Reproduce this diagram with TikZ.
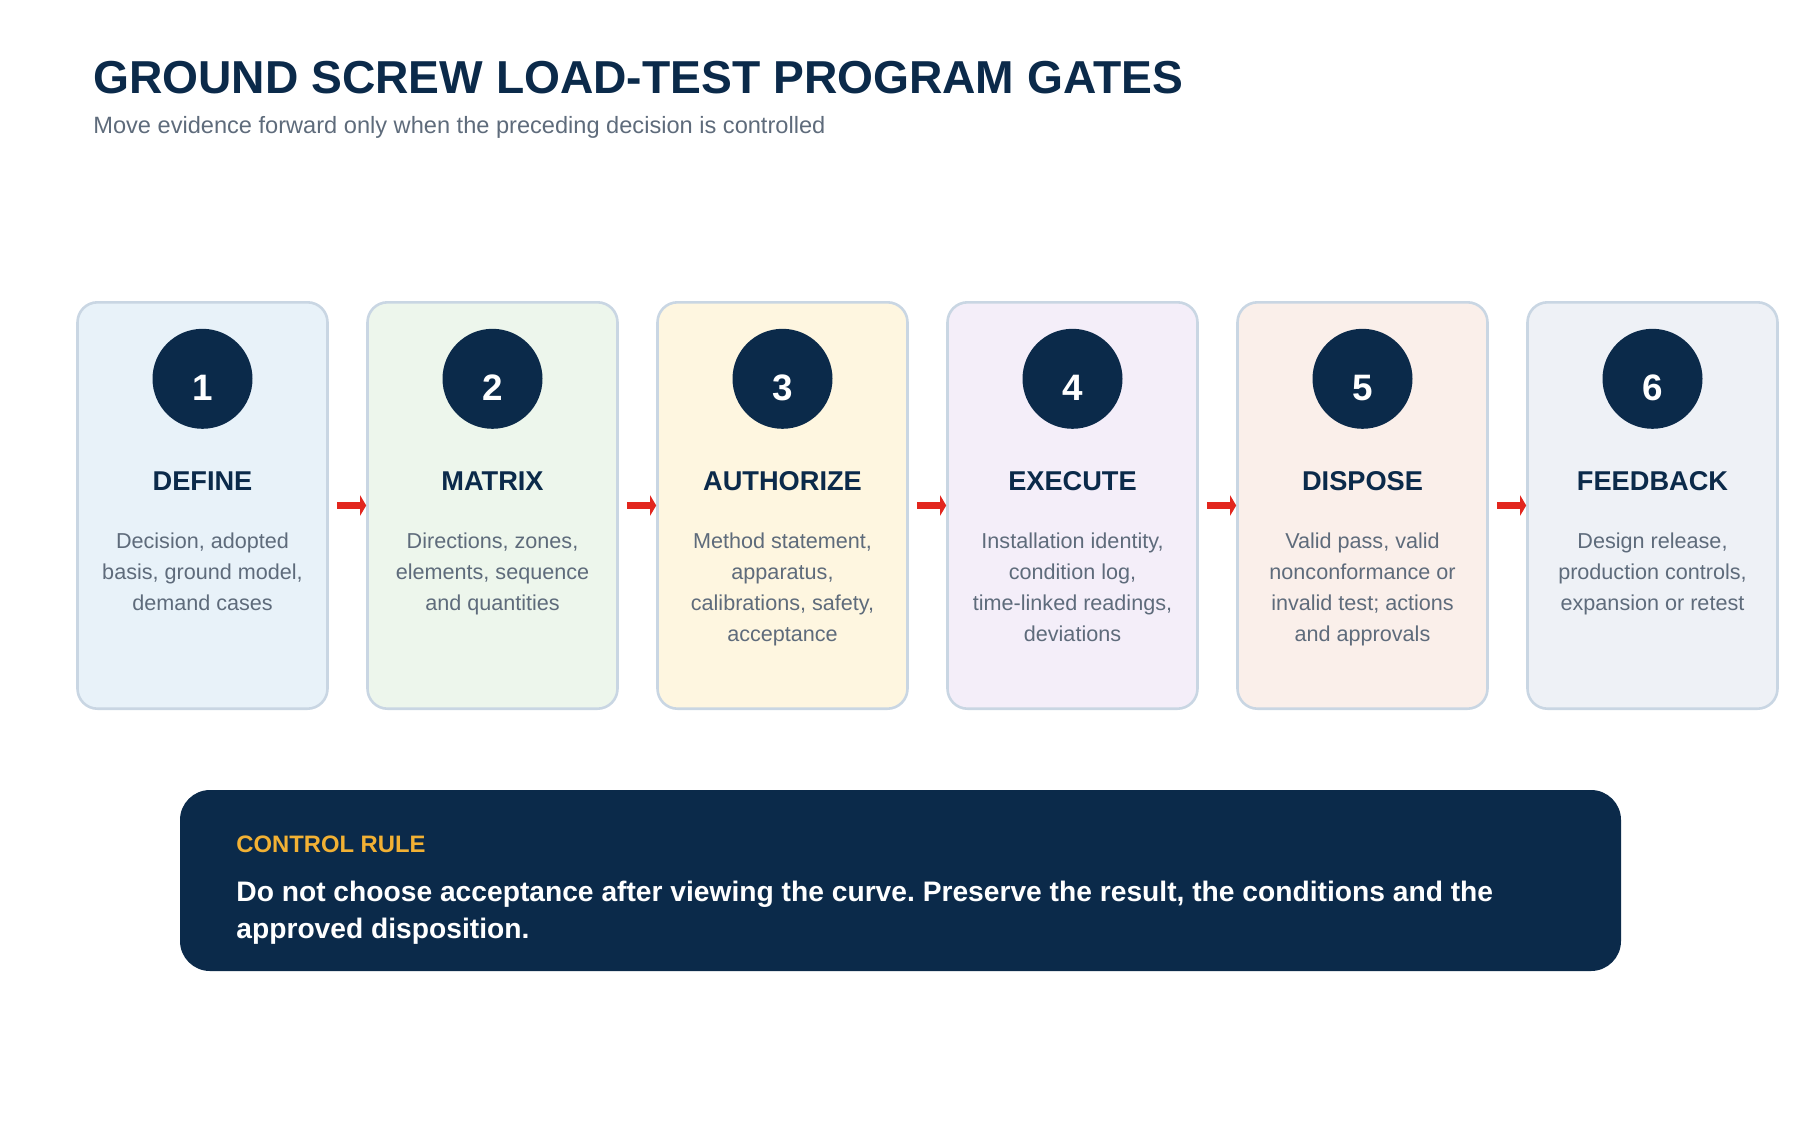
\documentclass[tikz,border=0pt]{standalone}
\usepackage{fontspec}
\setmainfont{Liberation Sans}
\usetikzlibrary{positioning, arrows.meta}
\frenchspacing

\definecolor{navy}{HTML}{0B2A4A}
\definecolor{slate}{HTML}{5E6B7B}
\definecolor{edge}{HTML}{C9D6E3}
\definecolor{gold}{HTML}{F2B134}
\definecolor{flowred}{HTML}{E2261E}
\definecolor{tintA}{HTML}{E8F2F9}
\definecolor{tintB}{HTML}{EDF6EC}
\definecolor{tintC}{HTML}{FEF6E0}
\definecolor{tintD}{HTML}{F4EEF9}
\definecolor{tintE}{HTML}{FAEFEA}
\definecolor{tintF}{HTML}{EEF1F6}

\begin{document}
\begin{tikzpicture}[x=0.5pt, y=-0.5pt,
      card/.style = {draw=edge, line width=1.3pt, rounded corners=10pt,
                     minimum width=125pt, minimum height=203.2pt, inner sep=0pt},
      disc/.style = {circle, fill=navy, minimum size=50pt, inner sep=0pt},
      num/.style  = {text=white, inner sep=0pt,
                     font=\fontsize{18.4pt}{18pt}\selectfont\bfseries},
      gate/.style = {text=navy, inner sep=0pt, anchor=base,
                     font=\fontsize{13.6pt}{16pt}\selectfont\bfseries},
      note/.style = {text=slate, inner sep=0pt, anchor=north, align=center,
                     font=\fontsize{10.8pt}{15.5pt}\selectfont},
      flow/.style = {draw=flowred, line width=3.5pt, shorten <=4.2pt,
                     -{Triangle[length=3pt, width=10pt]}},
      panel/.style = {fill=navy, rounded corners=15pt,
                      minimum width=720.5pt, minimum height=90.5pt} ]

   \useasboundingbox (0,0) rectangle (1800,1120);

   \node (title) [anchor=base west, inner sep=0pt, text=navy,
                  font=\fontsize{23.1pt}{27pt}\selectfont\bfseries]
         at (92.7,93.3) {GROUND SCREW LOAD-TEST PROGRAM GATES};
   \node (subtitle) [anchor=base west, inner sep=0pt, text=slate,
                     font=\fontsize{11.8pt}{14pt}\selectfont]
         at (93,133.3) {Move evidence forward only when the preceding decision is controlled};

   \foreach \i/\tint/\gate/\lines in {
      1/tintA/DEFINE/{Decision, adopted\\basis, ground model,\\demand cases},
      2/tintB/MATRIX/{Directions, zones,\\elements, sequence\\and quantities},
      3/tintC/AUTHORIZE/{Method statement,\\apparatus,\\calibrations, safety,\\acceptance},
      4/tintD/EXECUTE/{Installation identity,\\condition log,\\time-linked readings,\\deviations},
      5/tintE/DISPOSE/{Valid pass, valid\\nonconformance or\\invalid test; actions\\and approvals},
      6/tintF/FEEDBACK/{Design release,\\production controls,\\expansion or retest}}
   {
      \node (b\i) [card, fill=\tint] at ({202.5+290*(\i-1)},505.5) {};
      \node (d\i) [disc, below=13.7pt of b\i.north] {};
      \node (n\i) [num] at ([yshift=-4.4pt]d\i.center) {\i};
      \node (h\i) [gate] at ([yshift=7.4pt]b\i.center) {\gate};
      \node (t\i) [note] at ([yshift=-13.5pt]b\i.center) {\lines};
   }

   \foreach \i [remember=\i as \j (initially 1)] in {2,...,6}
      \draw[flow] (b\j.east) -- (b\i.west);

   \node (rule) [panel] at (900.5,880.5) {};
   \node (rulehead) [anchor=base west, inner sep=0pt, text=gold,
                     font=\fontsize{11.9pt}{14pt}\selectfont\bfseries]
         at (236,852) {CONTROL RULE};
   \node (rulebody) [anchor=north west, inner sep=0pt, text=white, align=left,
                     font=\fontsize{14.1pt}{18.7pt}\selectfont\bfseries]
         at (236,880.2) {Do not choose acceptance after viewing the curve. Preserve the result, the conditions and the\\approved disposition.};
\end{tikzpicture}
\end{document}
